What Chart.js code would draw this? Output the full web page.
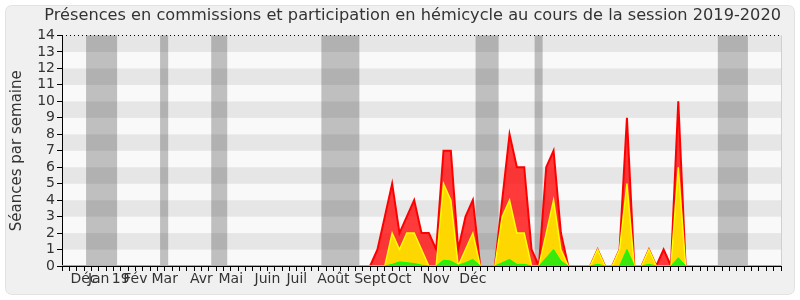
<!DOCTYPE html>
<html>
<head>
<meta charset="utf-8">
<script src="https://cdn.jsdelivr.net/npm/chart.js@4.4.1/dist/chart.umd.min.js"></script>
<style>
  body { margin: 0; background: #ffffff; }
  #wrap { width: 800px; height: 300px; }
</style>
</head>
<body>
<div id="wrap"><canvas id="chart" width="800" height="300"></canvas></div>
<script>
// one point per week, 99 weeks
const weekCount = 99;
const monthTicks = { 3: 'Déc', 5: 'Jan', 8: '19', 10: 'Fév', 14: 'Mar', 19: 'Avr', 23: 'Mai',
  28: 'Juin', 32: 'Juil', 37: 'Août', 42: 'Sept', 46: 'Oct', 51: 'Nov', 56: 'Déc' };

// values, by week index (weeks not listed are 0)
const redValues = { 43: 1, 44: 3, 45: 5, 46: 2, 47: 3, 48: 4, 49: 2, 50: 2, 51: 1, 52: 7, 53: 7,
  54: 1, 55: 3, 56: 4, 60: 4, 61: 8, 62: 6, 63: 6, 64: 1, 66: 6, 67: 7, 68: 2,
  73: 1, 76: 1, 77: 9, 80: 1, 82: 1, 84: 10 };
const yellowValues = { 45: 2, 46: 1, 47: 2, 48: 2, 49: 1, 52: 5, 53: 4, 55: 1, 56: 2,
  60: 3, 61: 4, 62: 2, 63: 2, 66: 2, 67: 4, 68: 1, 73: 1, 76: 1, 77: 5, 80: 1, 84: 6 };
const greenValues = { 45: 0.1, 46: 0.25, 47: 0.2, 48: 0.15, 49: 0.05, 52: 0.35, 53: 0.3, 54: 0.05,
  55: 0.2, 56: 0.4, 60: 0.2, 61: 0.4, 62: 0.1, 63: 0.1, 66: 0.5, 67: 1, 68: 0.3,
  73: 0.1, 77: 1, 80: 0.1, 84: 0.5 };

// holiday periods (grey bands), in week index units
const bandStarts = [3.28, 13.37, 20.34, 35.35, 56.37, 64.42, 89.39];
const bandEnds   = [7.51, 14.47, 22.52, 40.53, 59.51, 65.51, 93.49];

function toSeries(values) {
  let out = [];
  for (let i = 0; i < weekCount; i++) out.push(values[i] || 0);
  return out;
}

let labels = [];
for (let i = 0; i < weekCount; i++) labels.push(monthTicks[i] || '');

const backgroundPlugin = {
  id: 'background',
  beforeDraw(chart) {
    const ctx = chart.ctx;
    const area = chart.chartArea;
    const y = chart.scales.y;
    const x = chart.scales.x;
    ctx.save();
    // outer box
    ctx.fillStyle = '#f0f0f0';
    ctx.strokeStyle = '#e2e2e2';
    ctx.beginPath();
    ctx.roundRect(5.5, 5.5, 789, 289, 6);
    ctx.fill();
    ctx.stroke();
    // horizontal stripes
    for (let v = 0; v < 14; v++) {
      ctx.fillStyle = v % 2 === 1 ? '#e6e6e6' : '#f9f9f9';
      const top = y.getPixelForValue(v + 1);
      const bottom = y.getPixelForValue(v);
      ctx.fillRect(area.left, top, area.right - area.left, bottom - top);
    }
    // holiday bands
    ctx.fillStyle = 'rgba(26,26,26,0.26)';
    for (let i = 0; i < bandStarts.length; i++) {
      const l = x.getPixelForValue(bandStarts[i]);
      const r = x.getPixelForValue(bandEnds[i]);
      ctx.fillRect(l, area.top, r - l, area.bottom - area.top);
    }
    // right border of plot
    ctx.strokeStyle = '#d0d0d0';
    ctx.lineWidth = 1;
    ctx.beginPath();
    ctx.moveTo(Math.round(area.right) + 0.5, area.top);
    ctx.lineTo(Math.round(area.right) + 0.5, area.bottom);
    ctx.stroke();
    ctx.restore();
  },
  afterDatasetsDraw(chart) {
    const ctx = chart.ctx;
    const area = chart.chartArea;
    const top = Math.round(chart.scales.y.getPixelForValue(14)) + 0.5;
    ctx.save();
    ctx.strokeStyle = '#000000';
    ctx.lineWidth = 1;
    ctx.setLineDash([1, 3]);
    ctx.beginPath();
    ctx.moveTo(area.left, top);
    ctx.lineTo(area.right, top);
    ctx.stroke();
    ctx.restore();
  }
};

new Chart(document.getElementById('chart'), {
  type: 'line',
  data: {
    labels: labels,
    datasets: [
      {
        data: toSeries(redValues),
        borderColor: '#ff0000',
        backgroundColor: 'rgba(255,0,0,0.77)',
        borderWidth: 2,
        fill: 'origin',
        order: 3
      },
      {
        data: toSeries(yellowValues),
        borderColor: '#ffff00',
        backgroundColor: '#ffd700',
        borderWidth: 1.5,
        fill: 'origin',
        order: 2
      },
      {
        data: toSeries(greenValues),
        borderColor: '#00ff00',
        backgroundColor: '#3be80e',
        borderWidth: 1,
        fill: 'origin',
        order: 1
      }
    ]
  },
  options: {
    responsive: false,
    animation: false,
    elements: {
      point: { radius: 0 },
      line: { tension: 0 }
    },
    layout: { padding: { left: 0, right: 19, top: 0, bottom: 0 } },
    plugins: {
      legend: { display: false },
      tooltip: { enabled: false },
      title: {
        display: true,
        align: 'end',
        text: 'Présences en commissions et participation en hémicycle au cours de la session 2019-2020',
        color: '#333333',
        font: { family: 'DejaVu Sans', size: 16.2, weight: 'normal' },
        padding: { top: 6, bottom: 10 }
      }
    },
    scales: {
      x: {
        z: 1,
        offset: false,
        grid: { drawOnChartArea: false, tickLength: 5, color: '#000000' },
        border: { color: '#000000' },
        ticks: {
          autoSkip: false,
          maxRotation: 0,
          minRotation: 0,
          padding: 0,
          color: '#333333',
          font: { family: 'DejaVu Sans', size: 14 }
        },
        afterFit: s => { s.height = 34; }
      },
      y: {
        z: 1,
        min: 0,
        max: 14,
        grid: { drawOnChartArea: false, tickLength: 5, color: '#000000' },
        border: { color: '#000000' },
        ticks: {
          stepSize: 1,
          autoSkip: false,
          padding: 2,
          color: '#333333',
          font: { family: 'DejaVu Sans', size: 14 }
        },
        title: {
          display: true,
          text: 'Séances par semaine',
          color: '#333333',
          font: { family: 'DejaVu Sans', size: 15 },
          padding: { top: 8, bottom: 4 }
        },
        afterFit: s => { s.width = 62; }
      }
    }
  },
  plugins: [backgroundPlugin]
});
</script>
</body>
</html>
